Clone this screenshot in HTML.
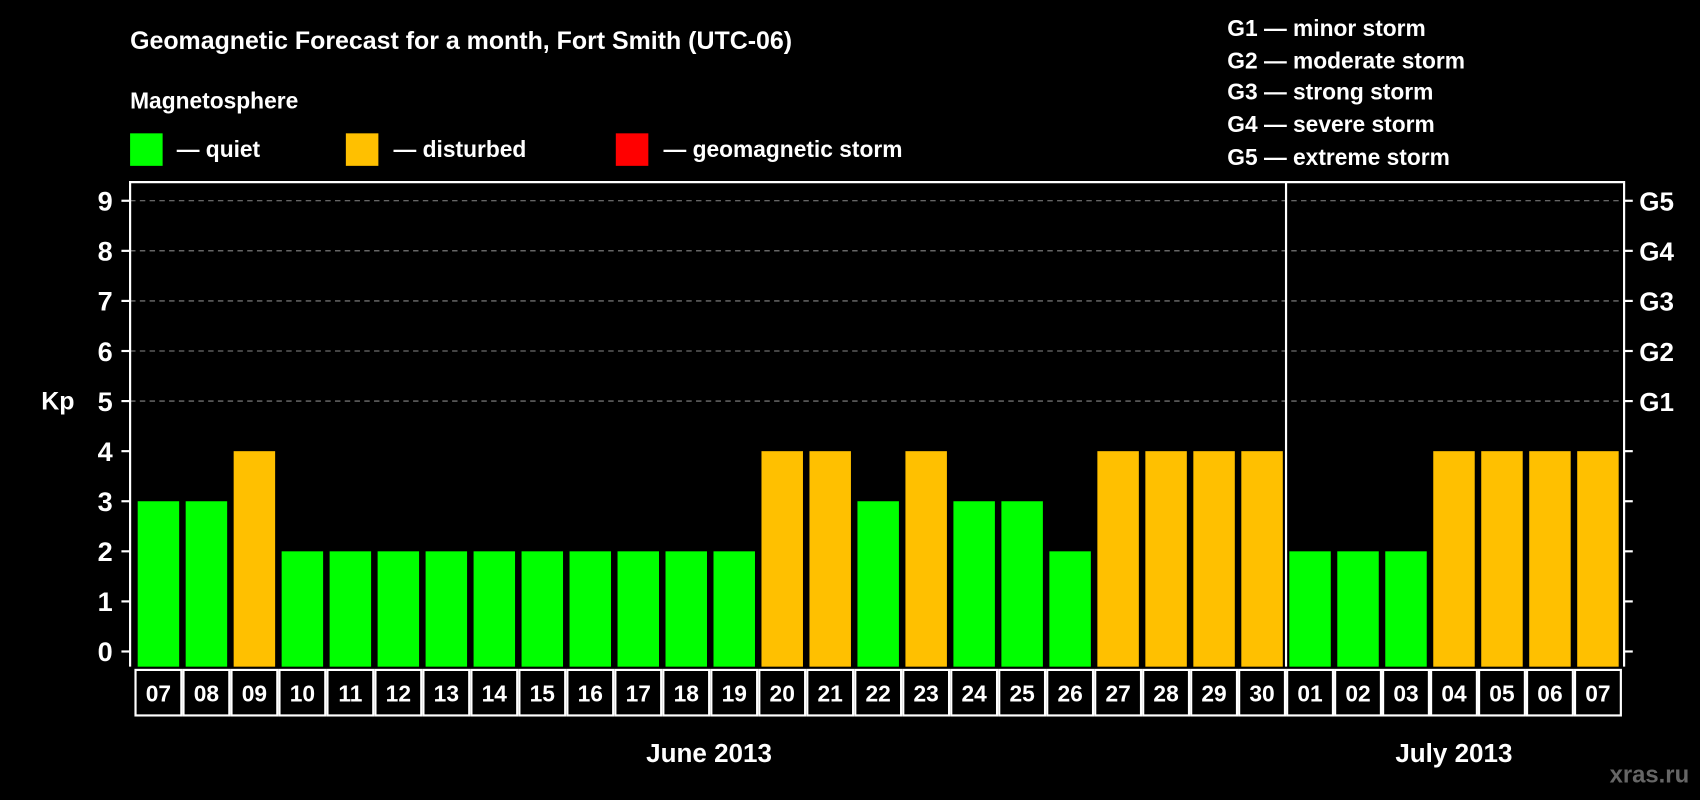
<!DOCTYPE html>
<html><head><meta charset="utf-8"><style>
html,body{margin:0;padding:0;background:#000;width:1700px;height:800px;overflow:hidden}
#wrap{width:1568px;height:738px;transform:scale(1.08418,1.08401);transform-origin:0 0;position:relative}
text{font-family:"Liberation Sans",sans-serif;font-weight:bold;fill:#fff}
</style></head><body>
<div id="wrap">
<svg id="chart" width="1568" height="738">
<text x="120" y="45" font-size="23">Geomagnetic Forecast for a month, Fort Smith (UTC-06)</text>
<text x="120" y="100" font-size="21">Magnetosphere</text>
<g>
<rect x="120" y="123" width="30" height="30" fill="#00ff00"/>
<text x="163" y="145" font-size="21">— quiet</text>
<rect x="319" y="123" width="30" height="30" fill="#ffc000"/>
<text x="363" y="145" font-size="21">— disturbed</text>
<rect x="568" y="123" width="30" height="30" fill="#ff0000"/>
<text x="612" y="145" font-size="21">— geomagnetic storm</text>
</g>
<g font-size="21">
<text x="1132" y="33">G1 — minor storm</text>
<text x="1132" y="63">G2 — moderate storm</text>
<text x="1132" y="92">G3 — strong storm</text>
<text x="1132" y="122">G4 — severe storm</text>
<text x="1132" y="152">G5 — extreme storm</text>
</g>
<g id="grid"></g><g id="bars"></g><g id="axes"></g><g id="dates"></g>
<text x="38" y="378" font-size="23">Kp</text>
<text x="654" y="703" font-size="24" text-anchor="middle">June 2013</text>
<text x="1341" y="703" font-size="24" text-anchor="middle">July 2013</text>
<text x="1558" y="722" font-size="22" text-anchor="end" style="fill:#666">xras.ru</text>
</svg></div>
<script>
const days=["07","08","09","10","11","12","13","14","15","16","17","18","19","20","21","22","23","24","25","26","27","28","29","30","01","02","03","04","05","06","07"];
const kp=[3,3,4,2,2,2,2,2,2,2,2,2,2,4,4,3,4,3,3,2,4,4,4,4,2,2,2,4,4,4,4];
const yTicks=[0,1,2,3,4,5,6,7,8,9];
const gLabels=["G1","G2","G3","G4","G5"];
const NS="http://www.w3.org/2000/svg";
const L=120,R=1498,T=168,B=615,x0=124,cw=(1496-124)/31;
const y=v=>601-v*46.2;
function mk(t,a,p){const e=document.createElementNS(NS,t);for(const k in a)e.setAttribute(k,a[k]);p.appendChild(e);return e;}
const grid=document.getElementById('grid'),bars=document.getElementById('bars'),axes=document.getElementById('axes'),dates=document.getElementById('dates');
for(let v=5;v<=9;v++){const g=mk('line',{x1:L,x2:R,y1:y(v),y2:y(v),stroke:'#888','stroke-dasharray':'5,4','stroke-width':1},grid);

}
kp.forEach((v,i)=>{const r=mk('rect',{x:x0+i*cw+3,y:y(v),width:cw-6,height:B-y(v),fill:v>=5?'#ff0000':(v>=4?'#ffc000':'#00ff00')},bars);


const c=mk('rect',{x:x0+i*cw+1,y:618,width:cw-2,height:42,fill:'#000',stroke:'#fff','stroke-width':2},dates);


const t=mk('text',{x:x0+i*cw+cw/2,y:647,'font-size':21,'text-anchor':'middle'},dates);t.textContent=days[i];

});
const ax=mk('path',{d:`M${L},${B} V${T} H${R} V${B}`,fill:'none',stroke:'#fff','stroke-width':2},axes);


const sep=mk('line',{x1:x0+24*cw,x2:x0+24*cw,y1:T,y2:B,stroke:'#fff','stroke-width':2},axes);


yTicks.forEach(v=>{mk('line',{x1:112,x2:L,y1:y(v),y2:y(v),stroke:'#fff','stroke-width':2},axes);mk('line',{x1:R,x2:1506,y1:y(v),y2:y(v),stroke:'#fff','stroke-width':2},axes);
const t=mk('text',{x:104,y:y(v)+9,'font-size':25,'text-anchor':'end'},axes);t.textContent=v;

});
gLabels.forEach((g,i)=>{const t=mk('text',{x:1512,y:y(i+5)+9,'font-size':24},axes);t.textContent=g;

});
</script>
</body></html>
